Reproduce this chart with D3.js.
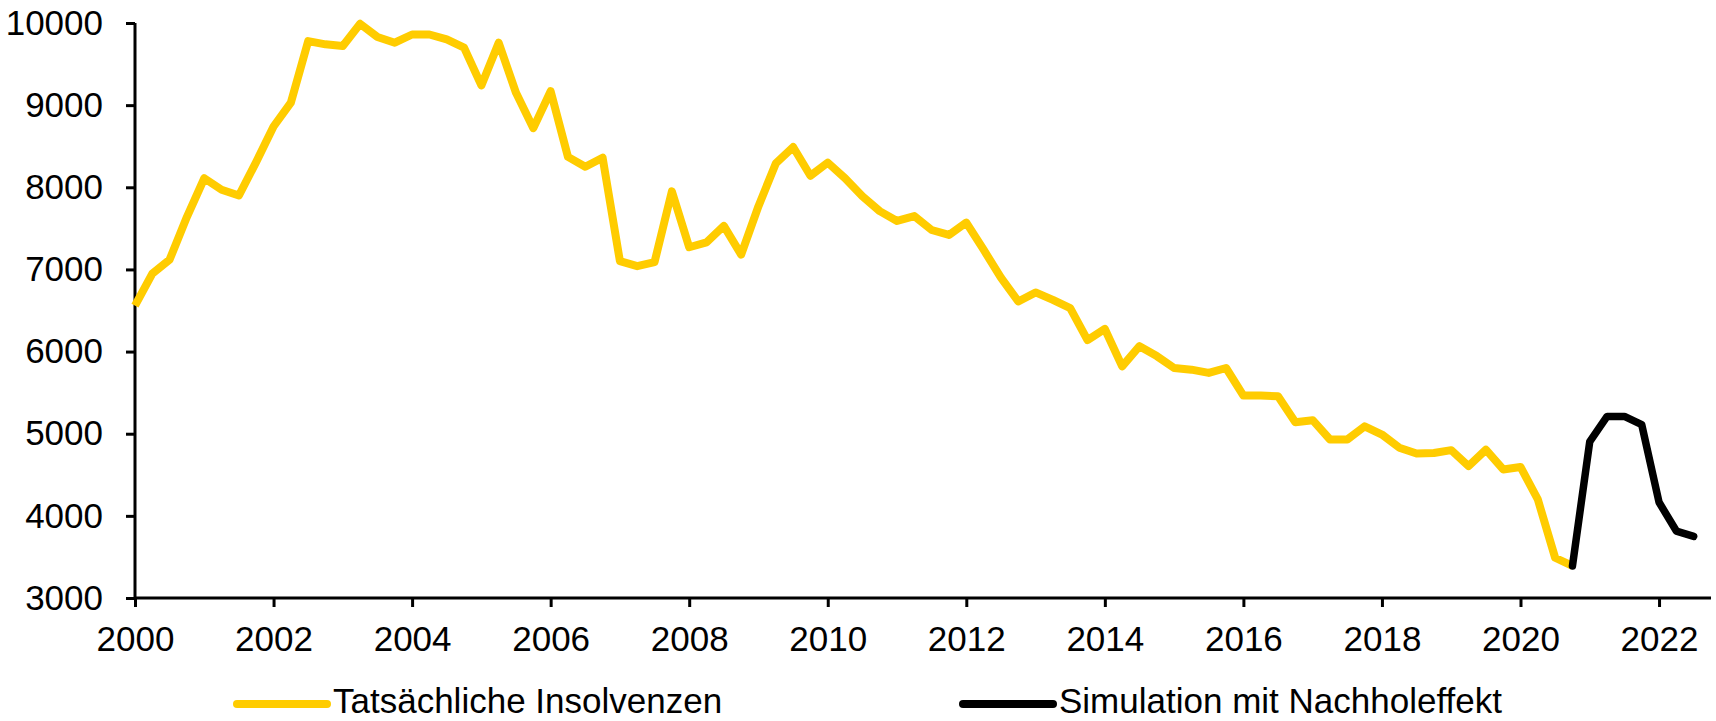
<!DOCTYPE html>
<html>
<head>
<meta charset="utf-8">
<script src="https://cdn.jsdelivr.net/npm/d3@7"></script>
<style>
  html, body { margin: 0; padding: 0; background: #fff; }
  svg { display: block; font-family: 'Liberation Sans', Arial, Helvetica, sans-serif; }
</style>
</head>
<body>
<div id="chart"></div>
<script>
// quarterly values, first quarter = 2000 Q1
const startYear = 2000;
const actualValues = [
  6560, 6950, 7120, 7640, 8110, 7970, 7900, 8310,
  8740, 9030, 9780, 9740, 9720, 9990, 9830, 9760,
  9860, 9860, 9800, 9700, 9240, 9760, 9150, 8720,
  9170, 8370, 8250, 8360, 7100, 7040, 7090, 7950,
  7270, 7330, 7530, 7180, 7770, 8290, 8490, 8140,
  8300, 8110, 7890, 7710, 7590, 7650, 7480, 7420,
  7570, 7240, 6900, 6610, 6720, 6630, 6530, 6140,
  6275, 5820, 6065, 5945, 5800, 5780, 5740, 5800,
  5465, 5465, 5455, 5140, 5165, 4930, 4930, 5090,
  4990, 4830, 4760, 4765, 4800, 4605, 4805, 4565,
  4595, 4200, 3490, 3390
];
// simulation starts at the last actual quarter (2020 Q4)
const simStartIndex = 83;
const simValues = [3390, 4905, 5210, 5210, 5110, 4165, 3815, 3750];

const yTicks = [3000, 4000, 5000, 6000, 7000, 8000, 9000, 10000];
const xTicks = [2000, 2002, 2004, 2006, 2008, 2010, 2012, 2014, 2016, 2018, 2020, 2022];

const seriesNames = ['Tatsächliche Insolvenzen', 'Simulation mit Nachholeffekt'];
const seriesColors = ['#ffcc00', '#000000'];

const W = 1716, H = 721;
const margin = { top: 23, right: 5, bottom: 123, left: 135 };
const width = W - margin.left - margin.right;
const height = H - margin.top - margin.bottom;

const svg = d3.select('#chart').append('svg')
  .attr('width', W)
  .attr('height', H);

const g = svg.append('g')
  .attr('transform', `translate(${margin.left},${margin.top})`);

const x = d3.scaleLinear().domain([2000, 2022.75]).range([0, width]);
const y = d3.scaleLinear().domain([3000, 10000]).range([height, 0]);

const toPoints = (vals, offset) => vals.map((v, i) => ({ t: startYear + (offset + i) / 4, v: v }));

const line = d3.line()
  .x(d => x(d.t))
  .y(d => y(d.v));

// axes
const yAxis = g.append('g')
  .attr('class', 'y-axis')
  .call(d3.axisLeft(y).tickValues(yTicks).tickSize(9).tickPadding(23).tickFormat(d3.format('d')));

const xAxis = g.append('g')
  .attr('class', 'x-axis')
  .attr('transform', `translate(0,${height})`)
  .call(d3.axisBottom(x).tickValues(xTicks).tickSize(9).tickPadding(19).tickFormat(d3.format('d')));

g.selectAll('.domain').attr('stroke', '#000').attr('stroke-width', 3);
g.selectAll('.tick line').attr('stroke', '#000').attr('stroke-width', 3);
g.selectAll('.tick text').attr('fill', '#000').style('font-size', '35px');
xAxis.selectAll('.domain').attr('d', `M0,0H${width}`);
yAxis.selectAll('.domain').attr('d', `M0,${height}V0`);

// lines
g.append('path')
  .datum(toPoints(actualValues, 0))
  .attr('fill', 'none')
  .attr('stroke', seriesColors[0])
  .attr('stroke-width', 8)
  .attr('stroke-linejoin', 'round')
  .attr('d', line);

g.append('path')
  .datum(toPoints(simValues, simStartIndex))
  .attr('fill', 'none')
  .attr('stroke', seriesColors[1])
  .attr('stroke-width', 7.5)
  .attr('stroke-linejoin', 'round')
  .attr('stroke-linecap', 'round')
  .attr('d', line);

// legend
const legendX = [237, 963];
const legend = svg.append('g').attr('class', 'legend')
  .attr('transform', 'translate(0,704)');

const items = legend.selectAll('.item')
  .data(seriesNames)
  .enter().append('g')
  .attr('class', 'item')
  .attr('transform', (d, i) => `translate(${legendX[i]},0)`);

items.append('line')
  .attr('x1', 0).attr('x2', 90)
  .attr('y1', 0).attr('y2', 0)
  .attr('stroke', (d, i) => seriesColors[i])
  .attr('stroke-width', 8)
  .attr('stroke-linecap', 'round');

items.append('text')
  .attr('x', 96)
  .attr('y', 9)
  .style('font-size', '35px')
  .attr('fill', '#000')
  .text(d => d);
</script>
</body>
</html>
